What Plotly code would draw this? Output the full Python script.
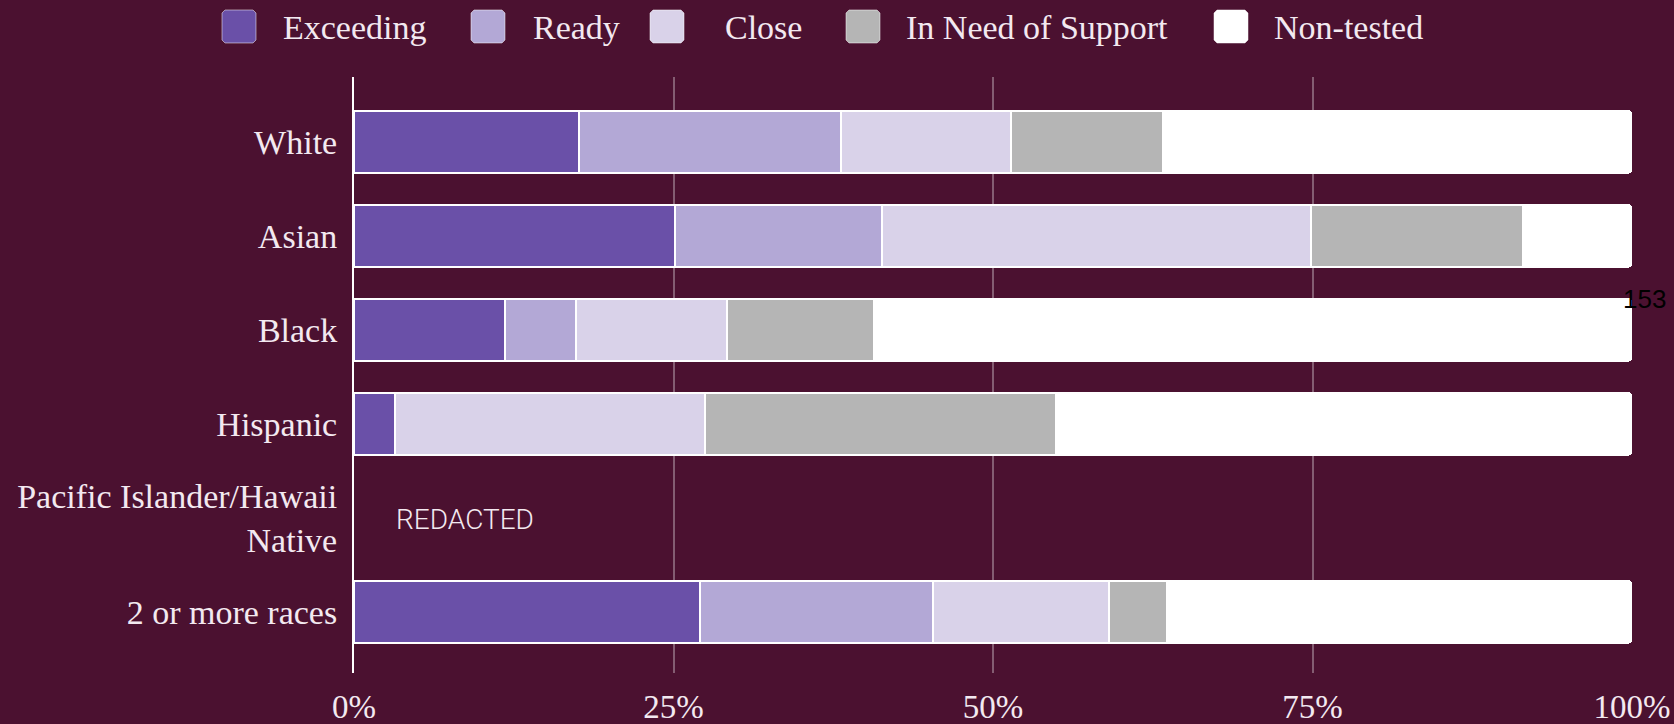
import plotly.graph_objects as go

# ---- data (percent of students per readiness level) ----
groups = ["White", "Asian", "Black", "Hispanic", "Pacific Islander/Hawaii Native", "2 or more races"]
group_labels = ["White", "Asian", "Black", "Hispanic", "Pacific Islander/Hawaii<br>Native", "2 or more races"]

levels = ["Exceeding", "Ready", "Close", "In Need of Support", "Non-tested"]
exceeding = [17.6, 25.1, 11.8, 3.2, None, 27.1]
ready = [20.5, 16.2, 5.6, 0.0, None, 18.2]
close = [13.3, 33.6, 11.8, 24.3, None, 13.8]
need_support = [11.9, 16.6, 11.5, 27.4, None, 4.5]
non_tested = [36.7, 8.5, 59.3, 45.1, None, 36.4]

x_ticks = [0, 25, 50, 75, 100]
x_tick_text = ["0%", "25%", "50%", "75%", "100%"]

# ---- styling ----
colors = ["#6a50a8", "#b3a8d6", "#d9d2e9", "#b5b5b5", "#ffffff"]
BG = "#4b1130"
TEXT = "#f3e9f0"
SERIF = "Liberation Serif, Times New Roman, serif"

W, H = 1674, 724
L, R, T, B = 354, 42, 77, 51
PW, PH = W - L - R, H - T - B


def px_x(px):
    return (px - L) / PW


def px_y(py):
    return (H - B - py) / PH


series = [exceeding, ready, close, need_support, non_tested]

fig = go.Figure()
for name, vals, col in zip(levels, series, colors):
    fig.add_trace(go.Bar(
        y=groups, x=vals, name=name, orientation="h",
        marker=dict(color=col, line=dict(color="#ffffff", width=2)),
        width=0.66, showlegend=False,
        hovertemplate="%{y}: %{x:.1f}%<extra>" + name + "</extra>",
    ))

# ---- legend drawn as rounded swatches + labels ----
swatch_left = [222, 471, 650, 846, 1214]
label_left = [281, 531, 723, 904, 1272]
shapes = []
annotations = []
sw, sh, rad = 34, 33, 3
top = 10
for name, col, sx, lx in zip(levels, colors, swatch_left, label_left):
    x0, x1 = sx, sx + sw
    y0, y1 = top, top + sh
    pts = [
        (x0 + rad, y0), (x1 - rad, y0), (x1, y0 + rad), (x1, y1 - rad),
        (x1 - rad, y1), (x0 + rad, y1), (x0, y1 - rad), (x0, y0 + rad),
    ]
    path = "M " + " L ".join(f"{px_x(a):.5f},{px_y(b):.5f}" for a, b in pts) + " Z"
    shapes.append(dict(type="path", xref="paper", yref="paper", path=path,
                       fillcolor=col, line=dict(color="rgba(255,255,255,0.5)", width=1),
                       layer="above"))
    annotations.append(dict(x=px_x(lx), y=px_y(top + sh / 2 + 1), xref="paper", yref="paper",
                            text=name, showarrow=False, xanchor="left", yanchor="middle",
                            font=dict(family=SERIF, size=34, color=TEXT)))

annotations.append(dict(x=px_x(394), y=px_y(519), xref="paper", yref="paper",
                        text="REDACTED", showarrow=False, xanchor="left", yanchor="middle",
                        font=dict(family="Roboto, sans-serif", size=28, color=TEXT, weight=300)))
annotations.append(dict(x=px_x(1644), y=px_y(299), xref="paper", yref="paper",
                        text="153", showarrow=False, xanchor="center", yanchor="middle",
                        font=dict(family="Liberation Sans, Arial, sans-serif", size=26, color="#000000")))

fig.update_layout(
    width=W, height=H,
    margin=dict(l=L, r=R, t=T, b=B, pad=0, autoexpand=False),
    paper_bgcolor=BG, plot_bgcolor=BG,
    barmode="stack", barcornerradius=5,
    showlegend=False,
    shapes=shapes, annotations=annotations,
    xaxis=dict(
        range=[0, 100], tickvals=x_ticks, ticktext=x_tick_text,
        showgrid=True, gridcolor="rgba(255,255,255,0.32)", gridwidth=2,
        zeroline=False, showline=False, automargin=False,
        ticks="", ticklabelstandoff=11,
        tickfont=dict(family=SERIF, size=33, color=TEXT),
        fixedrange=True,
    ),
    yaxis=dict(
        categoryorder="array", categoryarray=groups[::-1],
        tickvals=groups, ticktext=group_labels,
        range=[-0.65, 5.69], automargin=False,
        showgrid=False, zeroline=False,
        showline=True, linecolor="#ffffff", linewidth=2,
        ticks="outside", ticklen=8, tickcolor="rgba(0,0,0,0)",
        tickfont=dict(family=SERIF, size=34, color=TEXT),
        fixedrange=True,
    ),
)

fig.write_html("out.html")
